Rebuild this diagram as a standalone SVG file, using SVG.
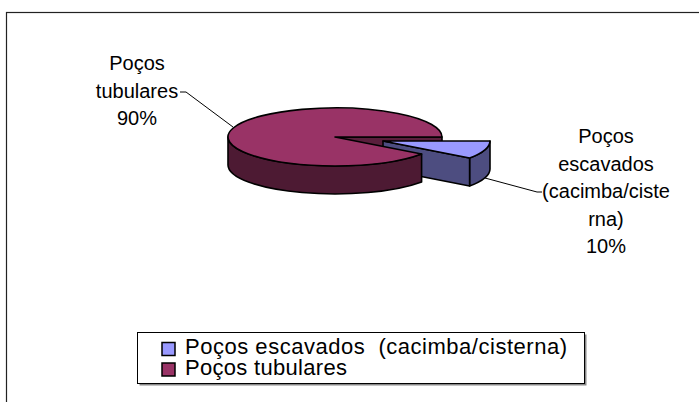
<svg xmlns="http://www.w3.org/2000/svg" width="699" height="402" viewBox="0 0 699 402">
<style>
.t{font-family:"Liberation Sans",Arial,sans-serif;font-size:20px;fill:#000}
.lg{font-size:22px}
.e{stroke:#000;stroke-width:1.6;stroke-linejoin:round}
.lead{fill:none;stroke:#000;stroke-width:1}
</style>
<rect x="0" y="0" width="699" height="402" fill="#fff"/>
<rect x="6.5" y="12.5" width="720" height="420" fill="none" stroke="#222" stroke-width="1.2"/>
<g id="slice-tubulares-back">
<path class="e" d="M335,137 L442,137 L442,165 L335,165 Z" fill="#5a1f3c"/>
</g>
<g id="slice-escavados">
<path class="e" d="M490,141 A107,29 0 0 1 469.6,158 L469.6,186 A107,29 0 0 0 490,169 Z" fill="#4d4d80"/>
<path class="e" d="M383,141 L469.6,158 L469.6,186 L383,169 Z" fill="#4d4d80"/>
<path class="e" d="M383,141 L490,141 A107,29 0 0 1 469.6,158 Z" fill="#9999ff"/>
</g>
<g id="slice-tubulares">
<path class="e" d="M421.6,154 A107,29 0 0 1 228,137 L228,165 A107,29 0 0 0 421.6,182 Z" fill="#4d1a33"/>
<path class="e" d="M335,137 L421.6,154 A107,29 0 1 1 442,137 Z" fill="#993366"/>
</g>
<g id="connectors">
<polyline class="lead" points="180,92 186,92 233,127"/>
<polyline class="lead" points="485,178 537,192 542,192"/>
</g>
<g id="label-tubulares">
<text class="t" x="137" y="70" text-anchor="middle">Poços</text>
<text class="t" x="137" y="98" text-anchor="middle">tubulares</text>
<text class="t" x="137" y="125" text-anchor="middle">90%</text>
</g>
<g id="label-escavados">
<text class="t" x="606" y="143" text-anchor="middle">Poços</text>
<text class="t" x="606" y="171" text-anchor="middle">escavados</text>
<text class="t" x="606" y="198" text-anchor="middle">(cacimba/ciste</text>
<text class="t" x="606" y="226" text-anchor="middle">rna)</text>
<text class="t" x="606" y="253" text-anchor="middle">10%</text>
</g>
<g id="legend">
<rect x="139.5" y="334.5" width="447" height="51" fill="#888" stroke="none"/>
<rect x="137.5" y="332.5" width="447" height="51" fill="#fff" stroke="#000" stroke-width="1"/>
<rect x="162" y="342.5" width="13" height="13" fill="#9999ff" stroke="#000" stroke-width="1.5"/>
<rect x="162" y="363" width="13" height="13" fill="#993366" stroke="#000" stroke-width="1.5"/>
<text class="t lg" x="185" y="354" textLength="382" lengthAdjust="spacing" xml:space="preserve">Poços escavados  (cacimba/cisterna)</text>
<text class="t lg" x="185" y="374.5" textLength="162" lengthAdjust="spacing">Poços tubulares</text>
</g>
</svg>
